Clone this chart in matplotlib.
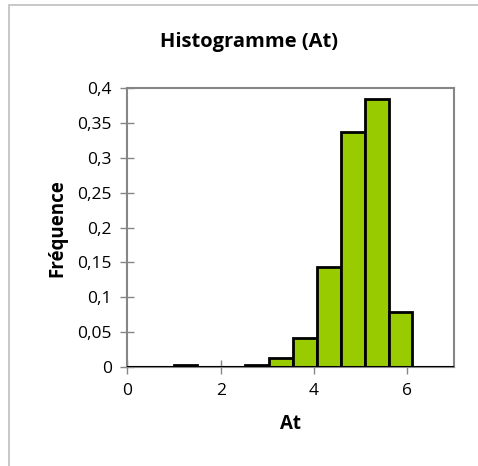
import matplotlib.pyplot as plt
from matplotlib.patches import Rectangle
from matplotlib.ticker import FuncFormatter

# bin edges and relative frequencies
bin_edges = [0.99, 1.50, 2.01, 2.53, 3.04, 3.55, 4.06, 4.57, 5.09, 5.60, 6.11]
freqs = [0.004, 0.0, 0.0, 0.003, 0.014, 0.0415, 0.1435, 0.336, 0.384, 0.0787]

x_ticks = [0, 2, 4, 6]
y_ticks = [0, 0.05, 0.1, 0.15, 0.2, 0.25, 0.3, 0.35, 0.4]

plt.rcParams['font.family'] = ['Open Sans', 'DejaVu Sans']

fig = plt.figure(figsize=(4.78, 4.66), dpi=100)
# chart area border
fig.patches.append(Rectangle((9 / 478, -0.1), 1.2, (466 - 5) / 466 + 0.1,
                             transform=fig.transFigure, fill=False,
                             edgecolor='#bfbfbf', lw=1.2))

ax = fig.add_axes([127.3 / 478, (466 - 367.3) / 466, 326.7 / 478, 279.6 / 466])

widths = [bin_edges[i + 1] - bin_edges[i] for i in range(len(freqs))]
ax.bar(bin_edges[:-1], freqs, width=widths, align='edge',
       color='#99cc00', edgecolor='black', linewidth=2, zorder=3)
ax.axhline(0, color='black', lw=2.2, zorder=4)

ax.set_xlim(0, 7)
ax.set_ylim(0, 0.4)
ax.set_xticks(x_ticks)
ax.set_yticks(y_ticks)
ax.yaxis.set_major_formatter(FuncFormatter(lambda v, p: ('%g' % round(v, 2)).replace('.', ',')))

for s in ax.spines.values():
    s.set_color('#868686')
    s.set_linewidth(1.5)
ax.tick_params(axis='both', direction='inout', length=10, width=1, color='#868686',
               labelsize=12.5, labelcolor='black', pad=6)
ax.tick_params(axis='x', pad=6)

fig.text(249 / 478, 1 - 42 / 466, 'Histogramme (At)', fontsize=14.5, fontweight='bold',
         ha='center', va='center')
fig.text(290 / 478, 1 - 424 / 466, 'At', fontsize=13.5, fontweight='bold',
         ha='center', va='center')
fig.text(57 / 478, 1 - 228 / 466, 'Fréquence', fontsize=13.5, fontweight='bold',
         ha='center', va='center', rotation=90)

fig.savefig('out.png', dpi=100)
